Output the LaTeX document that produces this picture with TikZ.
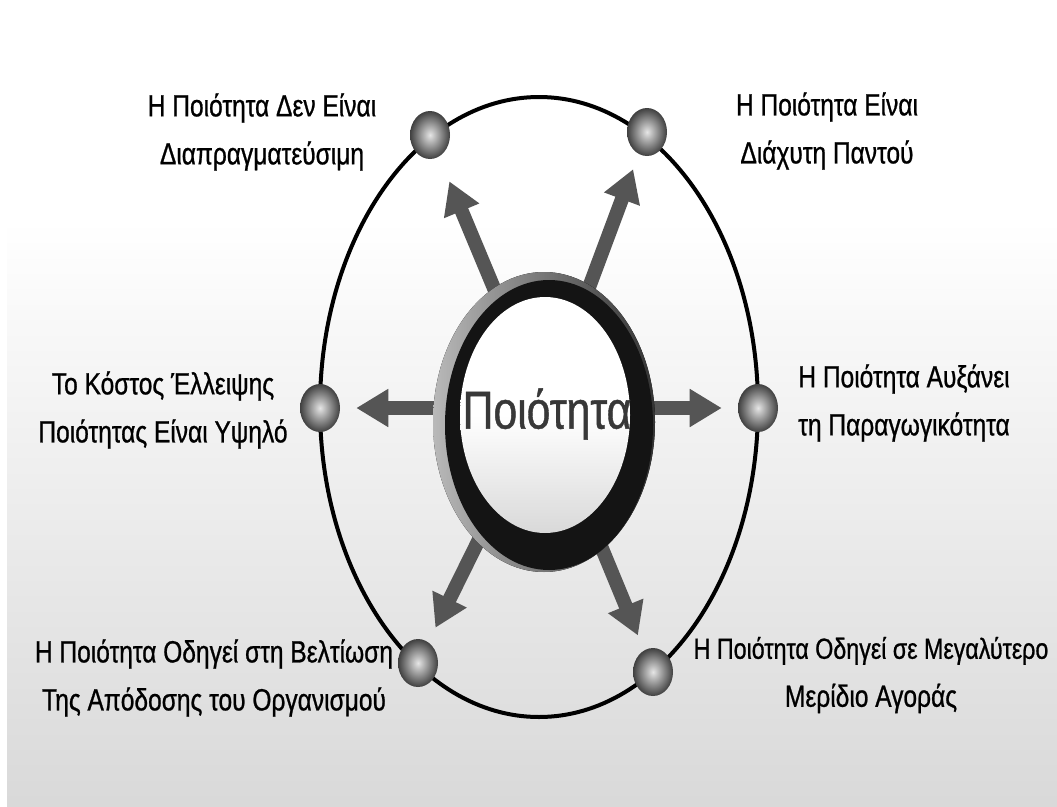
\documentclass[tikz,border=0pt]{standalone}
\usepackage{fontspec}
\setmainfont{Liberation Sans}[FakeStretch=0.8, FakeBold=0.8]
\usepackage{xcolor}
\usepackage{tikz}
\usetikzlibrary{shapes.geometric, arrows, arrows.meta}
\usetikzlibrary{calc,positioning}

\definecolor{spokegray}{HTML}{555555}

\tikzset{
  dot/.style={ellipse, minimum width=30pt, minimum height=36pt, inner sep=0pt,
    shading=radial, inner color=gray!20, outer color=black!75},
  core/.style={ellipse, minimum width=150pt, minimum height=200pt, inner sep=0pt},
  bigword/.style={text=black!78, inner sep=0pt, font=\fontsize{40}{40}\selectfont},
  lbl/.style={align=center, inner sep=0pt, font=\fontsize{23}{36}\selectfont},
  spoke/.style={line width=10.5pt, spokegray, -{Triangle[length=24pt,width=27pt]},
    shorten >=12pt},
}

\begin{document}
\begin{tikzpicture}[x=0.75pt, y=-0.75pt]

    \useasboundingbox (0,0) rectangle (1057,807);
    \clip (0,0) rectangle (1057,807);

    % Background
    \fill[white] (0,0) rectangle (1057,807);
    \shade[top color=white, bottom color=gray!30] (7,220) rectangle (1057,807);

    % Orbit
    \draw[line width=3pt] (539,407) ellipse [x radius=219, y radius=310];

    % Dots
    \node[dot] (tl) at (430,135) {};
    \node[dot] (tr) at (647,132) {};
    \node[dot] (ml) at (320,408) {};
    \node[dot] (mr) at (758,408) {};
    \node[dot] (bl) at (418,663) {};
    \node[dot] (br) at (653,672) {};

    % Arrows (under the ring)
    \node[core] (core) at (544,408) {};
    \draw[spoke, shorten >=20pt] (core) -- (tl);
    \draw[spoke] (core) -- (tr);
    \draw[spoke] (core) -- (ml);
    \draw[spoke] (core) -- (mr);
    \draw[spoke] (core) -- (bl);
    \draw[spoke] (core) -- (br);

    % Ring
    \fill[left color=gray!55, right color=black!80] (544,422) ellipse [x radius=111, y radius=150];
    \fill[black!92] (549,425) ellipse [x radius=104, y radius=145];
    \fill[top color=white, bottom color=gray!30, middle color=white] (545,415) ellipse [x radius=85, y radius=118];
    \node[bigword] (word) at (547,414) {Ποιότητα};

    % Labels
    \node[lbl] (ltl) at (262,132) {Η Ποιότητα Δεν Είναι\\Διαπραγματεύσιμη};
    \node[lbl] (ltr) at (827,131) {Η Ποιότητα Είναι\\Διάχυτη Παντού};
    \node[lbl] (lml) at (163,410) {Το Κόστος Έλλειψης\\Ποιότητας Είναι Υψηλό};
    \node[lbl] (lmr) at (904,403) {Η Ποιότητα Αυξάνει\\τη Παραγωγικότητα};
    \node[lbl] (lbl) at (214,678) {Η Ποιότητα Οδηγεί στη Βελτίωση\\Της Απόδοσης του Οργανισμού};
    \node[lbl] (lbr) at (871,675) {{\fontsize{21.8}{36}\selectfont Η Ποιότητα Οδηγεί σε Μεγαλύτερο}\\Μερίδιο Αγοράς};
\end{tikzpicture}
\end{document}
